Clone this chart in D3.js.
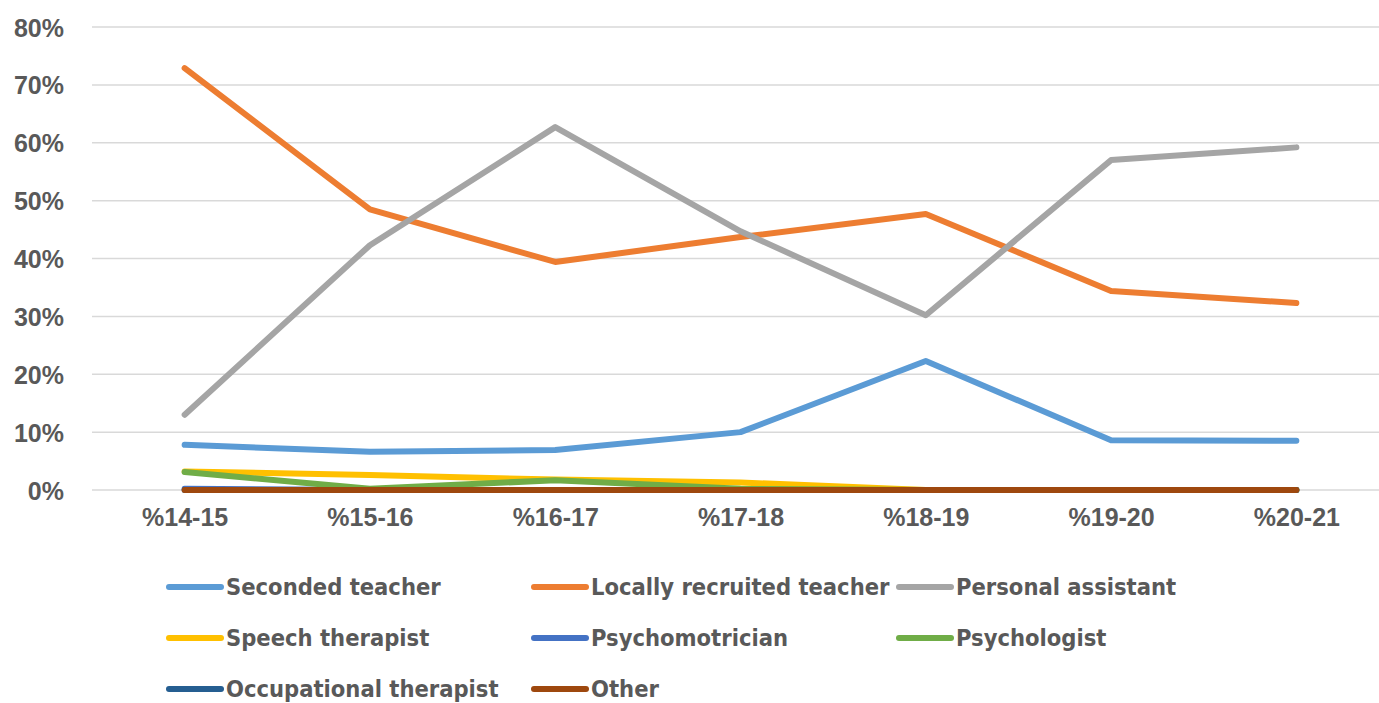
<!DOCTYPE html>
<html>
<head>
<meta charset="utf-8">
<script src="https://cdn.jsdelivr.net/npm/d3@7.9.0/dist/d3.min.js"></script>
<style>
  html, body { margin: 0; padding: 0; background: #fff; }
  svg { display: block; }
  text { font-family: "Liberation Sans", Arial, sans-serif; font-weight: bold; fill: #595959; }
  .legend text { font-family: "Liberation Sans Narrow", "DejaVu Sans Condensed", "Liberation Sans", sans-serif; }
</style>
</head>
<body>
<svg id="chart" width="1379" height="703"></svg>
<script>
// Years on the x axis
const years = ['%14-15', '%15-16', '%16-17', '%17-18', '%18-19', '%19-20', '%20-21'];
const yTicks = [0, 0.1, 0.2, 0.3, 0.4, 0.5, 0.6, 0.7, 0.8];

// Share of each staff type per year
const secondedTeacher = [0.078, 0.066, 0.069, 0.100, 0.223, 0.086, 0.085];
const localTeacher = [0.729, 0.485, 0.394, 0.437, 0.477, 0.344, 0.323];
const personalAssistant = [0.130, 0.423, 0.627, 0.447, 0.302, 0.570, 0.592];
const speechTherapist = [0.032, 0.026, 0.018, 0.013, 0.000, 0.000, 0.000];
const psychomotrician = [0.002, 0.000, 0.000, 0.000, 0.000, 0.000, 0.000];
const psychologist = [0.031, 0.002, 0.017, 0.002, 0.000, 0.000, 0.000];
const occupationalTherapist = [0.000, 0.000, 0.000, 0.000, 0.000, 0.000, 0.000];
const other = [0.000, 0.000, 0.000, 0.000, 0.000, 0.000, 0.000];

const series = [
  { name: 'Seconded teacher', values: secondedTeacher, color: '#5B9BD5' },
  { name: 'Locally recruited teacher', values: localTeacher, color: '#ED7D31' },
  { name: 'Personal assistant', values: personalAssistant, color: '#A5A5A5' },
  { name: 'Speech therapist', values: speechTherapist, color: '#FFC000' },
  { name: 'Psychomotrician', values: psychomotrician, color: '#4472C4' },
  { name: 'Psychologist', values: psychologist, color: '#70AD47' },
  { name: 'Occupational therapist', values: occupationalTherapist, color: '#255E91' },
  { name: 'Other', values: other, color: '#9E480E' },
];

const svg = d3.select('#chart');

// plot area
const plotLeft = 92, plotRight = 1389, plotTop = 27, plotBottom = 490;

const x = d3.scalePoint().domain(years).range([plotLeft, plotRight]).padding(0.5);
const y = d3.scaleLinear().domain([0, 0.8]).range([plotBottom, plotTop]);

// gridlines
svg.append('g')
  .selectAll('line')
  .data(yTicks)
  .join('line')
  .attr('x1', plotLeft)
  .attr('x2', 1379)
  .attr('y1', d => y(d))
  .attr('y2', d => y(d))
  .attr('stroke', '#D9D9D9')
  .attr('stroke-width', 1.5);

// y axis labels
const yAxis = svg.append('g')
  .attr('transform', `translate(${plotLeft}, 0)`)
  .call(d3.axisLeft(y).tickValues(yTicks).tickFormat(d3.format('.0%')).tickSize(0).tickPadding(28));
yAxis.select('.domain').remove();
yAxis.selectAll('text')
  .attr('font-size', 25)
  .attr('font-family', null)
  .attr('fill', null)
  .attr('dy', '0.36em');

// x axis labels
const xAxis = svg.append('g')
  .attr('transform', `translate(0, ${plotBottom})`)
  .call(d3.axisBottom(x).tickSize(0).tickPadding(27));
xAxis.select('.domain').remove();
xAxis.selectAll('text')
  .attr('font-size', 25)
  .attr('font-family', null)
  .attr('fill', null)
  .attr('dy', '0.36em');

// lines
const line = d3.line()
  .x((d, i) => x(years[i]))
  .y(d => y(d));

svg.append('g')
  .selectAll('path')
  .data(series)
  .join('path')
  .attr('d', d => line(d.values))
  .attr('fill', 'none')
  .attr('stroke', d => d.color)
  .attr('stroke-width', 6)
  .attr('stroke-linecap', 'round')
  .attr('stroke-linejoin', 'round');

// legend, 3 columns
const legend = svg.append('g').attr('class', 'legend');
const item = legend.selectAll('g')
  .data(series)
  .join('g')
  .attr('transform', (d, i) => `translate(${169 + (i % 3) * 365}, ${587 + Math.floor(i / 3) * 51})`);

item.append('line')
  .attr('x1', 0)
  .attr('x2', 52)
  .attr('stroke', d => d.color)
  .attr('stroke-width', 6)
  .attr('stroke-linecap', 'round');

item.append('text')
  .attr('x', 57)
  .attr('dy', '0.36em')
  .attr('font-size', 23.5)
  .text(d => d.name);
</script>
</body>
</html>
